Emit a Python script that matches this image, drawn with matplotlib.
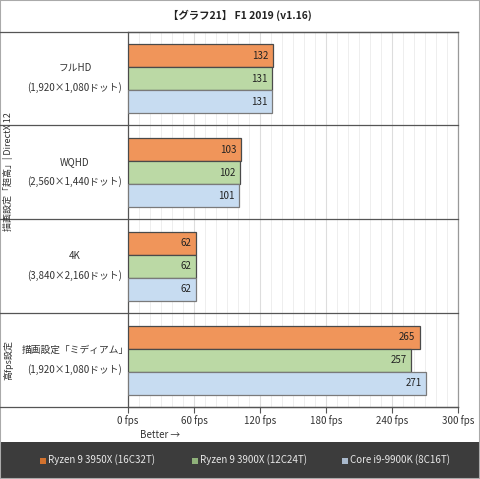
import matplotlib.pyplot as plt
from matplotlib.lines import Line2D
from matplotlib.patches import Rectangle
import numpy as np

plt.rcParams['font.family'] = ['Noto Sans CJK JP', 'DejaVu Sans']

categories = ['フルHD\n(1,920×1,080ドット)', 'WQHD\n(2,560×1,440ドット)',
              '4K\n(3,840×2,160ドット)', '描画設定「ミディアム」\n(1,920×1,080ドット)']
series_names = ['Ryzen 9 3950X (16C32T)', 'Ryzen 9 3900X (12C24T)', 'Core i9-9900K (8C16T)']
ryzen3950x = [132, 103, 62, 265]
ryzen3900x = [131, 102, 62, 257]
core9900k = [131, 101, 62, 271]
xticks = [0, 60, 120, 180, 240, 300]

colors = ['#f0955a', '#bbd9a5', '#c7dcf1']
edges = ['#4a4a4a', '#4a4a4a', '#7a7a7a']

fig = plt.figure(figsize=(4.8, 4.79), dpi=100)
ax = fig.add_axes([128/480, 1 - 407/479, 330/480, 375/479])

y = np.arange(len(categories))
h = 0.245
for i, vals in enumerate([ryzen3950x, ryzen3900x, core9900k]):
    pos = y + (i - 1) * h
    ax.barh(pos, vals, height=h, color=colors[i], edgecolor=edges[i], linewidth=0.9, zorder=3)
    for p, v in zip(pos, vals):
        ax.text(v - 4, p, str(v), ha='right', va='center', fontsize=7, color='#222222', zorder=4)

ax.set_xlim(0, 300)
ax.set_ylim(3.5, -0.5)
ax.set_xticks(xticks)
ax.set_xticklabels([f'{t} fps' for t in xticks], fontsize=7, color='#333333')
ax.set_xticks(np.arange(0, 301, 10), minor=True)
ax.grid(axis='x', which='minor', color='#eeeeee', lw=0.7, zorder=0)
ax.grid(axis='x', which='major', color='#dddddd', lw=0.8, zorder=0)
ax.tick_params(axis='x', which='major', length=4, color='#555555', pad=2)
ax.tick_params(axis='x', which='minor', length=0)
ax.set_yticks([])
for s in ax.spines.values():
    s.set_color('#555555')
    s.set_linewidth(0.9)
ax.spines['right'].set_color('#999999')

# separators between groups, extended to the left edge
x0 = 0.0
x1 = 458/480
for yy in [32, 125, 219, 313, 407]:
    fy = 1 - yy/479
    fig.add_artist(Line2D([x0, x1], [fy, fy], color='#555555', lw=0.9))

# category labels
for yy, lab in zip([78, 172, 266, 360], categories):
    fig.text(75/480, 1 - yy/479, lab, ha='center', va='center', fontsize=7,
             color='#333333', linespacing=2.0)

fig.text(8/480, 1 - 172/479, '描画設定「超高」| DirectX 12', rotation=90,
         ha='center', va='center', fontsize=6.5, color='#333333')
fig.text(8/480, 1 - 360/479, '高fps設定', rotation=90,
         ha='center', va='center', fontsize=6.5, color='#333333')

fig.text(0.5, 1 - 15/479, '【グラフ21】 F1 2019 (v1.16)', ha='center', va='center',
         fontsize=7.5, fontweight='bold', color='#222222')
fig.text(160/480, 1 - 435/479, 'Better →', ha='center', va='center', fontsize=7, color='#333333')

# legend band
fig.add_artist(Rectangle((0, 0), 1, 37/479, transform=fig.transFigure,
                         facecolor='#3c3c3c', edgecolor='none'))
for xs, name, c in zip([40, 192, 222 + 0], series_names, colors):
    pass
leg_x = [40, 192, 342]
leg_c = ['#d2722e', '#8fb17a', '#a9b9cc']
for xs, name, c in zip(leg_x, series_names, leg_c):
    fig.add_artist(Rectangle((xs/480, 1 - 464/479), 6/480, 6/479, transform=fig.transFigure,
                             facecolor=c, edgecolor='none'))
    fig.text((xs + 8)/480, 1 - 460/479, name, ha='left', va='center', fontsize=7, color='#e8e8e8')

fig.add_artist(Rectangle((0, 0), 1, 1, transform=fig.transFigure, facecolor='none',
                         edgecolor='#aaaaaa', lw=1.5))

fig.savefig('out.png', dpi=100)
